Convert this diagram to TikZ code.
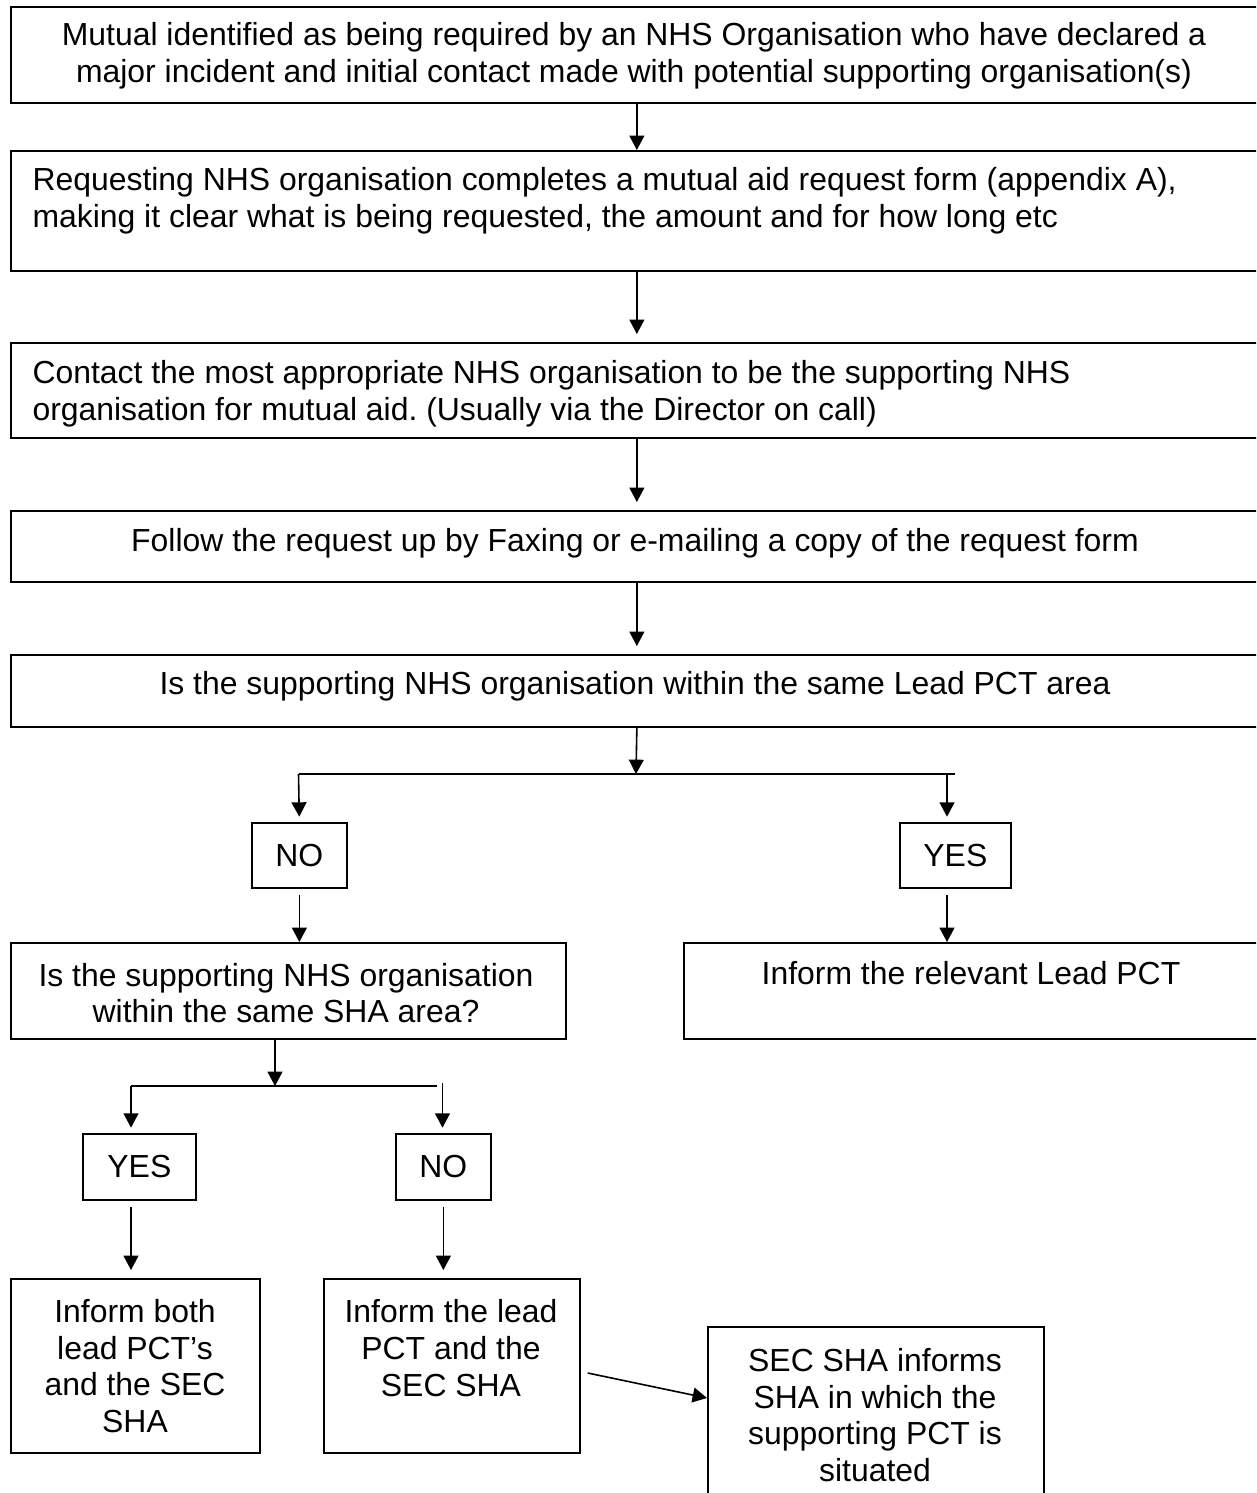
\documentclass[tikz,border=0pt]{standalone}
\usepackage{fontspec}
\setmainfont{Liberation Sans}
\usetikzlibrary{arrows.meta,calc}
\frenchspacing
\begin{document}
\begin{tikzpicture}[x=0.376pt,y=-0.376pt,
  box/.style={draw,line width=0.65pt,rectangle,inner sep=0pt,anchor=north west,font=\fontsize{12}{13.8}\selectfont},
  txt/.style={inner sep=0pt,font=\fontsize{12}{13.8}\selectfont},
  arr/.style={line width=0.6pt,-{Triangle[length=5.4pt,width=5.6pt]}},
  ln/.style={line width=0.6pt}]
\useasboundingbox (0,0) rectangle (1256,1493);
\clip (0,0) rectangle (1256,1493);
\newcommand\mkbox[6]{\node[box,minimum width={(#4-#2)*0.376pt},minimum height={(#5-#3)*0.376pt}] (#1) at (#2,#3) {#6};}
% boxes
\mkbox{b1}{10}{6}{1262}{102}{}
\mkbox{b2}{10}{150}{1262}{270}{}
\mkbox{b3}{10}{342}{1262}{437}{}
\mkbox{b4}{10}{510}{1262}{581}{}
\mkbox{b5}{10}{654}{1262}{726}{}
\mkbox{no1}{251}{822}{346}{887}{NO}
\mkbox{yes1}{899}{822}{1010}{887}{YES}
\mkbox{sha}{10}{942}{565}{1038}{}
\mkbox{lead}{683}{942}{1262}{1038}{}
\mkbox{yes2}{82}{1133}{195}{1199}{YES}
\mkbox{no2}{395}{1133}{490}{1199}{NO}
\mkbox{both}{10}{1278}{259}{1452}{}
\mkbox{leadsec}{323}{1278}{579}{1452}{}
\mkbox{sec}{707}{1326}{1043}{1510}{}
% texts
\node[txt,align=center] (t1) at (634,56) {Mutual identified as being required by an NHS Organisation who have declared a\\major incident and initial contact made with potential supporting organisation(s)};
\node[txt,align=left,anchor=west] (t2) at (32,201) {Requesting NHS organisation completes a mutual aid request form (appendix A),\\making it clear what is being requested, the amount and for how long etc};
\node[txt,align=left,anchor=west] (t3) at (32,394) {Contact the most appropriate NHS organisation to be the supporting NHS\\organisation for mutual aid. (Usually via the Director on call)};
\node[txt] (t4) at (635,543) {Follow the request up by Faxing or e-mailing a copy of the request form};
\node[txt] (t5) at (635,686) {Is the supporting NHS organisation within the same Lead PCT area};
\node[txt,align=center] (t6) at (286,993) {Is the supporting NHS organisation\\within the same SHA area?};
\node[txt] (t7) at (971,973) {Inform the relevant Lead PCT};
\node[txt,align=center] (t8) at (135,1366) {Inform both\\lead PCT’s\\and the SEC\\SHA};
\node[txt,align=center] (t9) at (451,1348) {Inform the lead\\PCT and the\\SEC SHA};
\node[txt,align=center] (t10) at (875,1415) {SEC SHA informs\\SHA in which the\\supporting PCT is\\situated};
% junctions
\coordinate (j1) at (636,774);
\coordinate (j1l) at (298.5,774);
\coordinate (j1r) at (955,774);
\coordinate (j1y) at (947,774);
\coordinate (j2) at (275,1086);
\coordinate (j2l) at (131,1086);
\coordinate (j2r) at (437,1086);
\coordinate (j2n) at (442.5,1083);
% connectors
\draw[arr] (b1.south) -- (b2.north);
\draw[arr,shorten >=3pt] (b2.south) -- (b3.north);
\draw[arr,shorten >=3pt] (b3.south) -- (b4.north);
\draw[arr,shorten >=3pt] (b4.south) -- (b5.north);
\draw[arr] (b5.south) -- (j1);
\draw[ln] (j1l) -- (j1r);
\draw[arr,shorten >=2pt] (j1l) -- (no1.north);
\draw[arr,shorten >=2pt] (j1y) -- (j1y |- yes1.north);
\draw[arr,shorten <=2.2pt] (no1.south) -- (no1.south |- sha.north);
\draw[arr,shorten <=2.2pt] (j1y |- yes1.south) -- (j1y |- lead.north);
\draw[arr] (j2 |- sha.south) -- (j2);
\draw[ln] (j2l) -- (j2r);
\draw[arr,shorten >=2pt] (j2l) -- (j2l |- yes2.north);
\draw[arr,shorten >=2pt] (j2n) -- (j2n |- no2.north);
\draw[arr,shorten <=2.2pt,shorten >=3pt] (j2l |- yes2.south) -- (j2l |- both.north);
\draw[arr,shorten <=2.2pt,shorten >=3pt] (no2.south) -- (no2.south |- leadsec.north);
\draw[arr] ($(leadsec.north east)+(7,95)$) -- ($(sec.north west)+(0,72)$);
\end{tikzpicture}
\end{document}
